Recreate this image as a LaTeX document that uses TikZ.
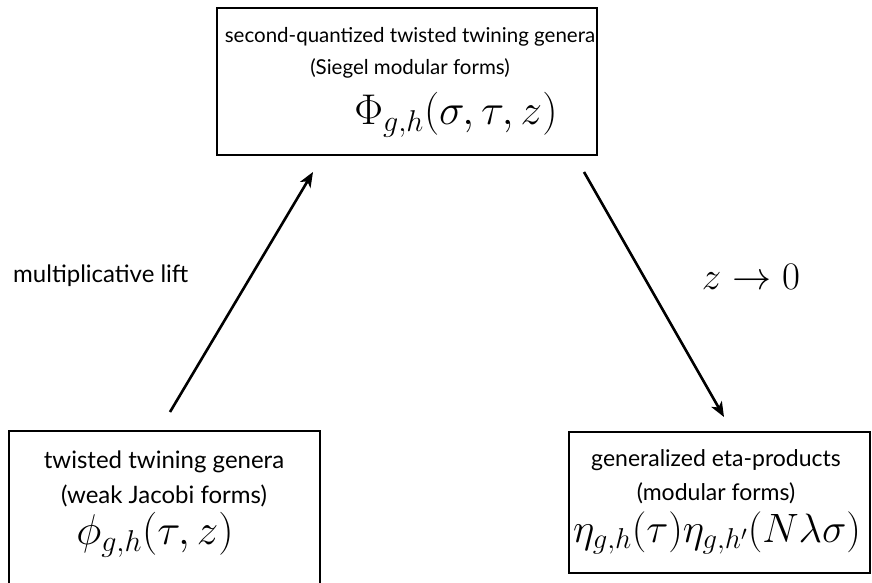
\documentclass[tikz,border=0pt]{standalone}
\usepackage{fix-cm}
\usepackage{fontspec}
\setmainfont{Lato}
\usetikzlibrary{arrows.meta}
\begin{document}
\begin{tikzpicture}[x=1pt,y=-1pt,
  box/.style={draw=black,line width=1.6pt,inner sep=0pt},
  txt/.style={inner sep=0pt,font=\fontsize{24}{28}\selectfont},
  ttxt/.style={inner sep=0pt,font=\fontsize{20.5}{24}\selectfont},
  mth/.style={inner sep=0pt,font=\fontsize{43}{50}\selectfont},
  conn/.style={line width=2.6pt,-{Stealth[length=15pt,width=12pt,inset=4pt]}}]
\clip (0,0) rectangle (872,583);
\fill[white] (0,0) rectangle (872,583);
% boxes
\node[box,minimum width=380pt,minimum height=147pt] (top) at (407,81.5) {};
\node[box,minimum width=311pt,minimum height=180pt] (left) at (164.5,521) {};
\node[box,minimum width=301pt,minimum height=141pt] (right) at (719.5,502.5) {};
% texts
\node[ttxt] (t1) at (410,37) {second-quantized twisted twining genera};
\node[ttxt] (t2) at (410,68) {(Siegel modular forms)};
\node[mth] (t3) at (456,115) {$\Phi_{g,h}(\sigma,\tau,z)$};
\node[txt] (l1) at (164,462) {twisted twining genera};
\node[txt] (l2) at (164,496) {(weak Jacobi forms)};
\node[mth] (l3) at (155,535) {$\phi_{g,h}(\tau,z)$};
\node[txt,font=\fontsize{23}{27}\selectfont] (r1) at (716,460) {generalized eta-products};
\node[txt,font=\fontsize{23}{27}\selectfont] (r2) at (716,493) {(modular forms)};
\node[mth,font=\fontsize{41}{48}\selectfont] (r3) at (717,533) {$\eta_{g,h}(\tau)\eta_{g,h'}(N\lambda\sigma)$};
\node[txt,anchor=west] (ml) at (13,276) {multiplicative lift};
\node[mth,font=\fontsize{39}{46}\selectfont] (zl) at (751,277) {$z\to0$};
% arrows
\coordinate (a1s) at (170,412);
\coordinate (a1e) at (313,172);
\coordinate (a2s) at (584,172);
\coordinate (a2e) at (724,417);
\draw[conn] (a1s) -- (a1e);
\draw[conn] (a2s) -- (a2e);
\end{tikzpicture}
\end{document}
